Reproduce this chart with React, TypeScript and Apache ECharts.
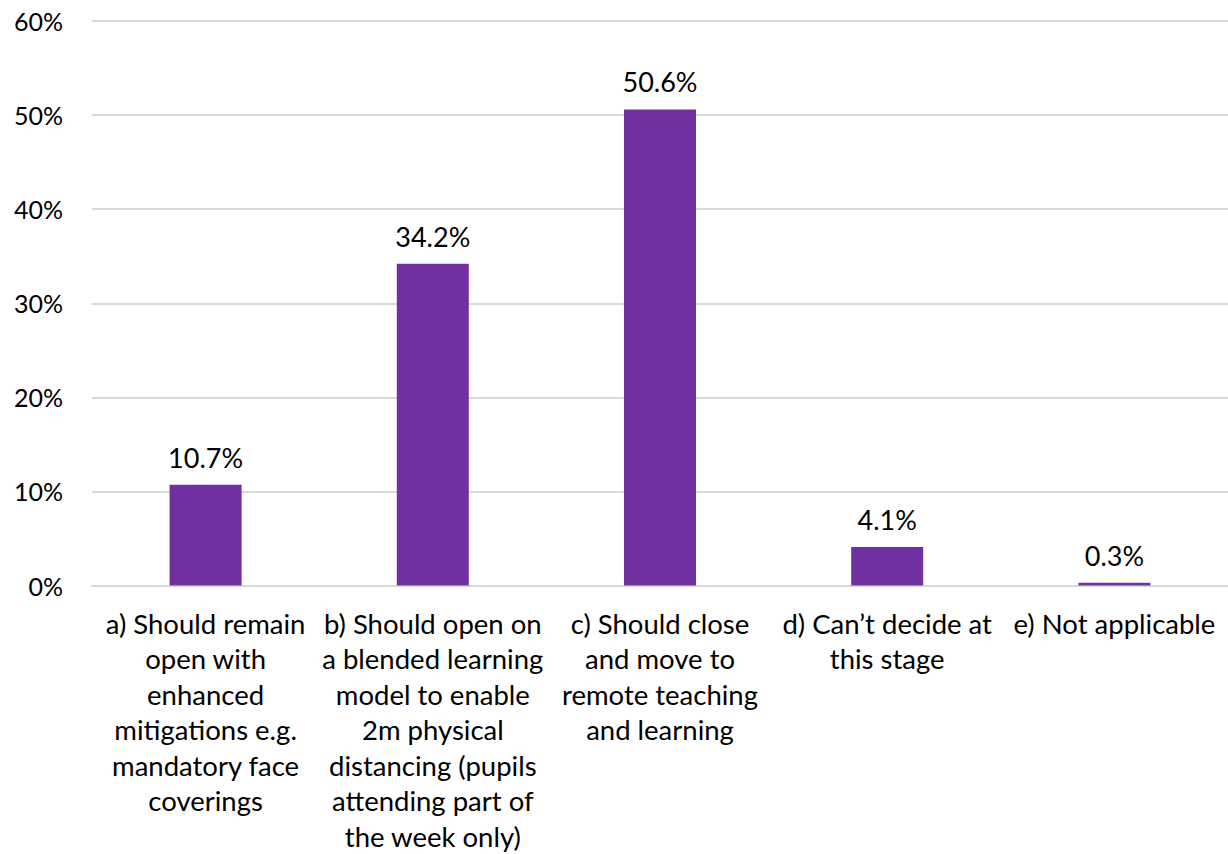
import React, { useEffect, useRef } from "react";
import * as echarts from "echarts";

const categories: string[] = [
  "a) Should remain\nopen with\nenhanced\nmitigations e.g.\nmandatory face\ncoverings",
  "b) Should open on\na blended learning\nmodel to enable\n2m physical\ndistancing (pupils\nattending part of\nthe week only)",
  "c) Should close\nand move to\nremote teaching\nand learning",
  "d) Can\u2019t decide at\nthis stage",
  "e) Not applicable",
];
const values: number[] = [10.7, 34.2, 50.6, 4.1, 0.3];
const yMax = 60;
const yInterval = 10;

const FONT = "Lato, 'Open Sans', sans-serif";

export default function App() {
  const ref = useRef<HTMLDivElement>(null);
  useEffect(() => {
    if (!ref.current) return;
    const chart = echarts.init(ref.current, undefined, { renderer: "svg" });
    chart.setOption({
      animation: false,
      backgroundColor: "#ffffff",
      grid: { left: 92, right: 0, top: 21, bottom: 268, containLabel: false },
      xAxis: {
        type: "category",
        data: categories,
        axisLine: { show: true, lineStyle: { color: "#d9d9d9", width: 2 } },
        axisTick: { show: false },
        axisLabel: {
          interval: 0,
          color: "#000000",
          fontFamily: FONT,
          fontSize: 27.5,
          lineHeight: 35.5,
          margin: 20,
          align: "center",
          verticalAlign: "top",
        },
      },
      yAxis: {
        type: "value",
        min: 0,
        max: yMax,
        interval: yInterval,
        axisLine: { show: false },
        axisTick: { show: false },
        splitLine: { lineStyle: { color: "#d9d9d9", width: 2 } },
        axisLabel: {
          formatter: "{value}%",
          color: "#000000",
          fontFamily: FONT,
          fontSize: 25,
          margin: 29,
        },
      },
      series: [
        {
          type: "bar",
          data: values,
          barWidth: 72,
          itemStyle: { color: "#7030a0" },
          label: {
            show: true,
            position: "top",
            distance: 14,
            formatter: (p: any) => `${p.value}%`,
            color: "#000000",
            fontFamily: FONT,
            fontSize: 27,
          },
        },
      ],
    });
    return () => chart.dispose();
  }, []);
  return (
    <div
      ref={ref}
      style={{ position: "fixed", left: 0, top: 0, width: 1228, height: 854, background: "#fff" }}
    />
  );
}
